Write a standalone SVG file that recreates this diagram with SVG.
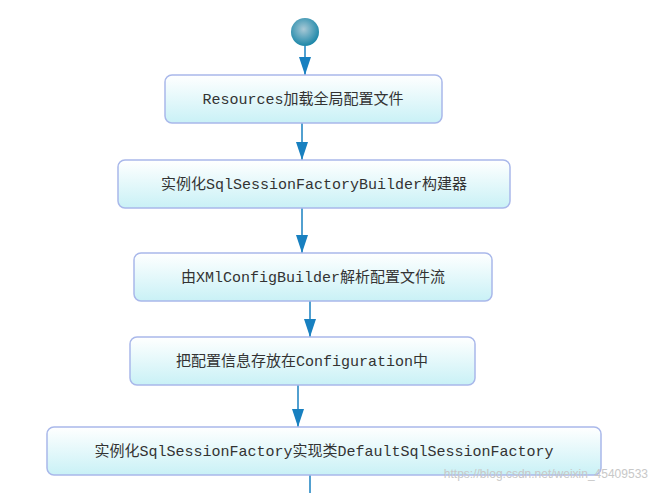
<svg xmlns="http://www.w3.org/2000/svg" width="658" height="493" viewBox="0 0 658 493">
<defs>
<linearGradient id="bg" x1="0" y1="0" x2="0" y2="1"><stop offset="0" stop-color="#ffffff"/><stop offset="1" stop-color="#c9f1f6"/></linearGradient>
<radialGradient id="cg" cx="0.45" cy="0.4" r="0.6"><stop offset="0" stop-color="#a9c9d6"/><stop offset="1" stop-color="#1a86a8"/></radialGradient>
<marker id="ah" markerWidth="18" markerHeight="12" refX="18" refY="6" orient="auto" markerUnits="userSpaceOnUse" viewBox="0 0 18 12"><path d="M0,0 L18,6 L0,12 Z" fill="#1880c0"/></marker>
<style>
.n{fill:url(#bg);stroke:#a9b8ea;stroke-width:1.5}
.t{font-family:"Liberation Mono","Noto Sans CJK SC",monospace;font-size:15px;fill:#333;text-anchor:middle}
.c{stroke:#1880c0;stroke-width:1.5;fill:none}
</style>
</defs>
<rect width="658" height="493" fill="#fff"/>
<g id="start"><circle cx="305" cy="32" r="14" fill="url(#cg)"/></g>
<g id="connectors">
<line class="c" x1="305" y1="46" x2="305" y2="75" marker-end="url(#ah)"/>
<line class="c" x1="302" y1="123" x2="302" y2="160" marker-end="url(#ah)"/>
<line class="c" x1="302" y1="208" x2="302" y2="253" marker-end="url(#ah)"/>
<line class="c" x1="310" y1="301" x2="310" y2="337" marker-end="url(#ah)"/>
<line class="c" x1="298" y1="385" x2="298" y2="427" marker-end="url(#ah)"/>
<line class="c" x1="310" y1="475" x2="310" y2="493"/>
</g>
<g id="n1"><rect class="n" x="165" y="75" width="277" height="48" rx="7"/><text class="t" x="303" y="104">Resources加载全局配置文件</text></g>
<g id="n2"><rect class="n" x="118" y="160" width="392" height="48" rx="7"/><text class="t" x="314" y="189">实例化SqlSessionFactoryBuilder构建器</text></g>
<g id="n3"><rect class="n" x="134" y="253" width="358" height="48" rx="7"/><text class="t" x="313" y="282">由XMlConfigBuilder解析配置文件流</text></g>
<g id="n4"><rect class="n" x="130" y="337" width="345" height="48" rx="7"/><text class="t" x="302" y="366">把配置信息存放在Configuration中</text></g>
<g id="n5"><rect class="n" x="47" y="427" width="554" height="48" rx="7"/><text class="t" x="324" y="456">实例化SqlSessionFactory实现类DefaultSqlSessionFactory</text></g>
<text x="648" y="478" style="font-family:'Liberation Sans',sans-serif;font-size:12px;fill:#c8c8c8;text-anchor:end">https://blog.csdn.net/weixin_45409533</text>
</svg>
